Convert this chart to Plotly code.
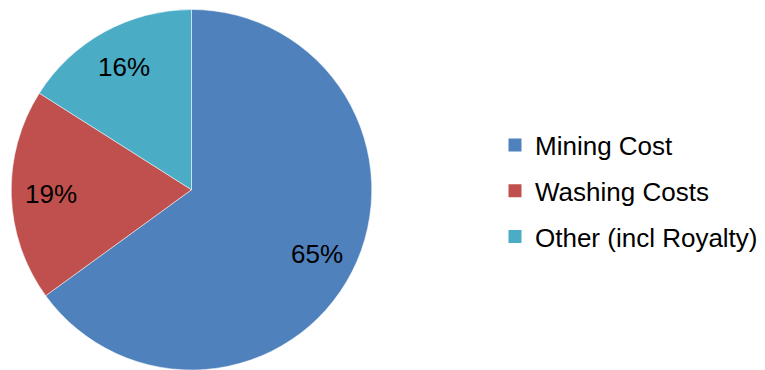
import math
import plotly.graph_objects as go

categories = ["Mining Cost", "Washing Costs", "Other (incl Royalty)"]
shares = [65, 19, 16]
colors = ["#4F81BD", "#C0504D", "#4BACC6"]

W, H = 765, 370
cx, cy, r = 191.5, 190.0, 180.5
FONT = "Liberation Sans, Arial"

fig = go.Figure(
    go.Pie(
        labels=categories,
        values=shares,
        sort=False,
        direction="clockwise",
        rotation=0,
        marker=dict(colors=colors, line=dict(color="white", width=0.5)),
        textinfo="none",
        hoverinfo="label+percent",
        showlegend=False,
        domain=dict(x=[(cx - r) / W, (cx + r) / W], y=[max(0, (H - cy - r) / H), (H - cy + r) / H]),
    )
)

# Legend entries (square swatches), one group each so rows can be spaced apart
for name, col in zip(categories, colors):
    fig.add_trace(
        go.Scatter(
            x=[None], y=[None], mode="markers", name=name, legendgroup=name,
            marker=dict(symbol="square", size=13, color=col),
            hoverinfo="skip",
        )
    )

# Percentage labels placed along each slice's mid-angle
total = sum(shares)
start = 0.0
for v in shares:
    span = 360.0 * v / total
    mid = math.radians(start + span / 2)
    rr = 0.78 * r
    px = cx + rr * math.sin(mid)
    py = cy - rr * math.cos(mid)
    fig.add_annotation(
        x=px / W, y=1 - py / H, xref="paper", yref="paper",
        xanchor="center", yanchor="middle",
        text=f"{round(100 * v / total)}%", showarrow=False,
        font=dict(family=FONT, size=26, color="black"),
    )
    start += span

fig.update_layout(
    width=W, height=H,
    margin=dict(l=0, r=0, t=0, b=0),
    paper_bgcolor="white",
    plot_bgcolor="white",
    xaxis=dict(visible=False),
    yaxis=dict(visible=False),
    showlegend=True,
    legend=dict(
        x=495 / W, y=1 - 191 / H, xanchor="left", yanchor="middle",
        font=dict(family=FONT, size=26, color="black"),
        itemwidth=30,
        tracegroupgap=9,
        bgcolor="rgba(0,0,0,0)",
    ),
)

fig.write_html("out.html")
